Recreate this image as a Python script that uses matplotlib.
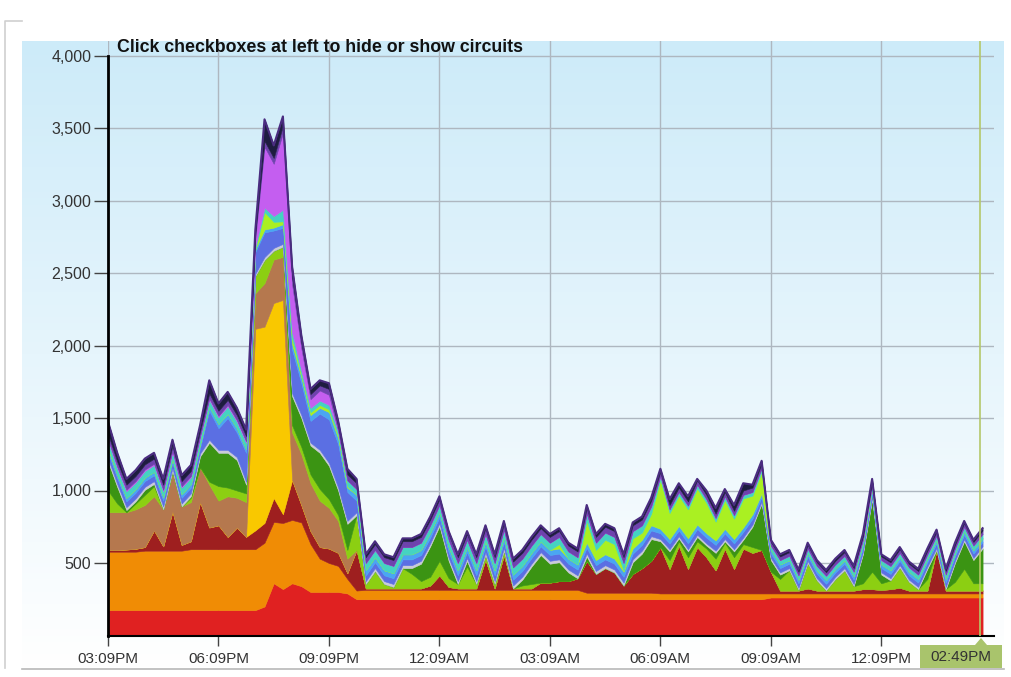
import numpy as np
import matplotlib.pyplot as plt
from matplotlib.colors import LinearSegmentedColormap
from matplotlib.patches import Rectangle, Polygon

plt.rcParams['font.family'] = ['Liberation Sans', 'DejaVu Sans']

# 15-minute samples starting at 03:09PM (hours since start)
hours = np.arange(96) * 0.25

x_ticks = [0, 3, 6, 9, 12, 15, 18, 21]
x_labels = ["03:09PM", "06:09PM", "09:09PM", "12:09AM",
            "03:09AM", "06:09AM", "09:09AM", "12:09PM"]
cursor_hour = 23 + 40 / 60
cursor_label = "02:49PM"
y_ticks = [500, 1000, 1500, 2000, 2500, 3000, 3500, 4000]

# per-circuit power, bottom of the stack first
red = ([175] * 17
       + [200, 360, 320, 360, 340, 300, 300, 300, 300, 290, 250]
       + [250] * 44
       + [262] * 24)
orange = ([403] * 4 + [410] * 5 + [420] * 8
          + [440, 423, 456, 437, 440, 330, 230, 200, 180, 100, 60]
          + [65] * 24 + [45] * 8 + [40] * 12 + [28] * 24)
maroon = [12, 12, 15, 20, 25, 140, 30, 270, 40, 55, 326, 150, 165, 85, 150, 85,
          130, 136, 165, 60, 275, 120, 90, 80, 100, 90, 40, 280,
          10, 10, 10, 10, 10, 10, 10, 30, 100, 20, 10, 10, 10, 210, 10, 240,
          10, 10, 10, 50, 50, 60, 60, 80,
          220, 130, 170, 140, 50, 130, 170, 220,
          320, 170, 330, 170, 320, 250, 160, 310, 170, 310, 280, 300,
          150, 20, 20, 20, 35, 20, 20, 20, 20, 20, 30, 30, 25, 30, 40, 20,
          20, 20, 300, 20, 20, 20, 20, 20]
yellow = [0] * 16 + [1390, 1354, 1345, 1478] + [0] * 76
brown = ([260, 260, 257, 272, 290, 235, 255, 265, 265, 270, 239, 295, 170, 280,
          205, 240, 245, 300, 300, 297, 328, 350, 330, 320, 280, 220, 100]
         + [0] * 69)
lime_lo = [150, 60, 0, 40, 70, 70, 0, 10, 0, 30, 0, 20, 100, 60, 50, 60,
           120, 160, 60, 70, 50, 50, 60, 80, 60, 40, 60, 240,
           30, 120, 30, 10, 140, 100, 50, 60, 100, 60, 30, 150, 30, 30, 30, 30,
           0, 20, 30, 0, 0, 0, 0, 0,
           0, 0, 0, 0, 0, 0, 0, 0,
           0, 60, 30, 80, 40, 60, 80, 40, 80, 30, 40, 0,
           0, 80, 140, 5, 175, 70, 2, 80, 140, 30, 40, 120, 45, 60, 140, 60,
           10, 80, 0, 10, 60, 150, 50, 50]
dk_green = [200, 115, 15, 15, 35, 15, 0, 5, 0, 10, 75, 270, 230, 240, 210, 60,
            0, 0, 0, 0, 200, 200, 200, 250, 230, 170, 180, 0,
            0, 0, 0, 0, 0, 40, 120, 210, 240, 120, 0, 40, 0, 0, 0, 0,
            0, 40, 120, 190, 130, 130, 60, 0,
            30, 0, 0, 0, 0, 80, 100, 150,
            40, 60, 20, 40, 30, 20, 40, 10, 40, 30, 140, 320,
            80, 30, 0, 0, 0, 0, 0, 0, 0, 0, 200, 500, 60, 0, 0, 0,
            0, 70, 0, 0, 130, 190, 160, 240]
grey = [20] * 16 + [15] + [20] * 12 + [20] * 31 + [15] * 12 + [15] * 24
blue = ([40] * 11
        + [200, 150, 220, 170, 200, 150, 170, 120, 110, 300, 220, 150, 250,
           300, 300, 200, 80]
        + [40] + [40] * 31 + [40] * 11 + [30] + [30] * 24)
light_blue = ([25] * 11
              + [30, 30, 30, 30, 25, 20, 20, 20, 25, 40, 40, 40, 40, 50, 40,
                 30, 40]
              + [35] * 32 + [30, 30, 30, 35] + [30] * 7 + [25] + [25] * 24)
lime_hi = ([15] + [0] * 15 + [0, 120, 40, 20, 40, 20, 20, 20, 20, 20, 10, 0]
           + [0] * 21 + [30, 0, 0, 150, 70, 100, 100, 10, 70, 50, 80]
           + [340, 180, 210, 200, 250, 210, 130, 200, 140, 200, 130, 150]
           + [0] * 24)
teal = ([45] * 6 + [40] + [45, 45, 45, 45, 45, 45, 50, 45, 45]
        + [20, 30, 40, 80, 40, 30, 30, 30, 30, 30, 40, 40]
        + [50] * 32 + [25] * 12 + [30] * 24)
magenta = ([10] * 16 + [50, 420, 360, 530, 330, 150, 60, 70, 70, 0, 0, 0]
           + [0] * 68)
purple = ([35] * 16 + [40, 40, 40, 50, 50, 40, 35, 35, 40, 35, 40, 40]
          + [40] * 32 + [30] * 12 + [25] * 24)
navy = ([85, 60] + [40] * 9 + [90, 50, 55, 50, 45]
        + [20, 150, 87, 64, 74, 50, 35, 35, 40, 35, 40, 30]
        + [20] * 32
        + [20, 40, 30, 35, 10, 30, 40, 20, 40, 50, 20, 20]
        + [15] * 24)

series = [red, orange, maroon, yellow, brown, lime_lo, dk_green, grey, blue,
          light_blue, lime_hi, teal, magenta, purple, navy]
colors = ['#e02121', '#f08c05', '#9e1f1f', '#f9c800', '#b5784e', '#8ccf12',
          '#3b9413', '#c9cbd8', '#5b6fe3', '#4aa6f2', '#aaf022', '#45d3c2',
          '#c45ef0', '#6e42ad', '#1e1c40']

fig = plt.figure(figsize=(10.12, 6.77), dpi=100)

# panel background with a soft blue gradient and a thin frame
bg = fig.add_axes([0, 0, 1, 1], zorder=-10)
bg.set_xlim(0, 1012)
bg.set_ylim(677, 0)
bg.axis('off')
grad = np.linspace(0, 1, 256).reshape(-1, 1)
cmap = LinearSegmentedColormap.from_list('panel', ['#cdebf9', '#e6f5fc', '#ffffff'])
bg.imshow(grad, extent=(22, 1004, 668, 41), aspect='auto', cmap=cmap)
bg.plot([22, 1004], [669, 669], color='#b8b8b8', lw=1.2)
bg.plot([5, 5, 22], [668, 21, 21], color='#cfcfcf', lw=1.2)

ax = fig.add_axes([108 / 1012, 1 - 635.5 / 677, 886 / 1012, 594.5 / 677])
ax.set_facecolor('none')

polys = ax.stackplot(hours, *series, colors=colors, linewidth=0, zorder=3)
for p, c in zip(polys, colors):
    p.set_edgecolor(c)
    p.set_linewidth(0.4)
total = np.sum(np.array(series), axis=0)
ax.plot(hours, total, color='#4a2c80', lw=1.5, zorder=4)

ax.set_xlim(0, 24.06)
ax.set_ylim(0, 4100)

ax.set_yticks(y_ticks)
ax.set_yticklabels([f"{v:,}" for v in y_ticks])
ax.set_xticks(x_ticks)
ax.set_xticklabels(x_labels)
ax.grid(True, color='#aeb7c0', lw=1.0, zorder=1)
ax.tick_params(axis='y', length=10, width=1, color='#444444', pad=2,
               labelsize=11.5, labelcolor='#333333')
ax.tick_params(axis='x', length=7, width=1, color='#444444', pad=5,
               labelsize=11, labelcolor='#333333')

for side in ('top', 'right'):
    ax.spines[side].set_visible(False)
ax.spines['left'].set_bounds(0, 4000)
ax.spines['left'].set_linewidth(2)
ax.spines['bottom'].set_linewidth(1.5)
ax.spines['left'].set_zorder(5)
ax.spines['bottom'].set_zorder(5)

ax.axvline(cursor_hour, color='#b4c86a', lw=1.2, zorder=6)
ax.text(0.25, 4055, "Click checkboxes at left to hide or show circuits",
        fontsize=12.8, fontweight='bold', va='center', ha='left', color='#111111')

# time cursor tag under the axis
bg.add_patch(Rectangle((920, 645), 82, 23, fc='#a9c46c', ec='none', zorder=2))
bg.add_patch(Polygon([(975, 645), (987, 645), (981, 638)], closed=True,
                     fc='#a9c46c', ec='none', zorder=2))
bg.text(961, 657, cursor_label, ha='center', va='center', fontsize=11,
        color='#333333', zorder=3)

fig.savefig('out.png', dpi=100)
